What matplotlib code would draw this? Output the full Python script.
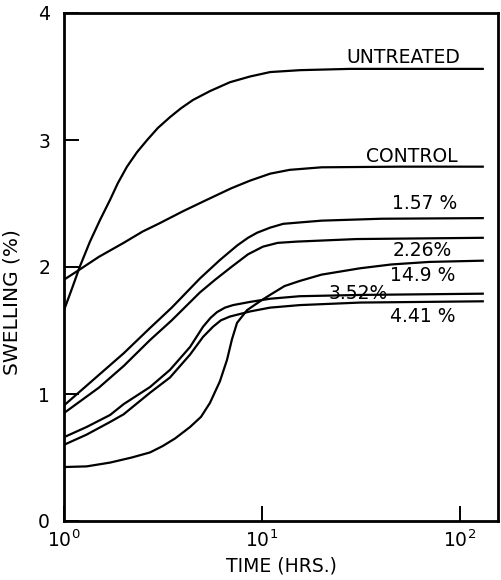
import matplotlib
matplotlib.use("Agg")
import matplotlib.pyplot as plt

# Werte (Zeit in Stunden, Quellung in %)
t_untr = [1.0, 1.1, 1.2, 1.35, 1.52, 1.71, 1.87, 2.08, 2.34, 2.63, 2.98, 3.43, 3.9, 4.48, 5.46, 6.89, 8.7, 11.0, 15.6, 27.8, 132]
s_untr = [1.66, 1.835, 2.0, 2.197, 2.37, 2.53, 2.66, 2.79, 2.905, 3.0, 3.095, 3.18, 3.25, 3.315, 3.385, 3.455, 3.50, 3.535, 3.55, 3.56, 3.56]

t_ctrl = [1.0, 1.2, 1.5, 2.0, 2.5, 3.0, 4.0, 5.28, 7.0, 8.7, 11, 13.8, 20, 50, 132]
s_ctrl = [1.90, 1.98, 2.08, 2.19, 2.28, 2.34, 2.44, 2.53, 2.62, 2.68, 2.735, 2.765, 2.785, 2.79, 2.79]

t_157 = [1.0, 1.5, 2.0, 2.72, 3.5, 4.86, 6.13, 7.5, 8.5, 9.45, 11, 12.8, 20, 40, 132]
s_157 = [0.91, 1.15, 1.32, 1.52, 1.68, 1.91, 2.055, 2.17, 2.23, 2.27, 2.31, 2.34, 2.365, 2.38, 2.385]

t_226 = [1.0, 1.5, 2.0, 2.72, 3.5, 4.86, 5.8, 7.0, 8.5, 10.1, 12, 15, 30, 132]
s_226 = [0.85, 1.05, 1.22, 1.425, 1.58, 1.80, 1.90, 2.00, 2.10, 2.16, 2.19, 2.20, 2.22, 2.23]

t_352 = [1.0, 1.3, 1.71, 2.0, 2.72, 3.43, 4.33, 5.04, 5.5, 5.93, 6.5, 7.14, 8.7, 10.97, 15.5, 31.3, 132]
s_352 = [0.66, 0.74, 0.835, 0.92, 1.055, 1.19, 1.37, 1.53, 1.60, 1.645, 1.68, 1.70, 1.725, 1.75, 1.77, 1.78, 1.79]

t_441 = [1.0, 1.3, 1.71, 2.0, 2.72, 3.43, 4.33, 5.04, 5.66, 6.2, 6.89, 8.7, 10.97, 15.5, 31.3, 132]
s_441 = [0.60, 0.68, 0.78, 0.84, 1.01, 1.13, 1.31, 1.45, 1.53, 1.58, 1.61, 1.65, 1.68, 1.70, 1.72, 1.73]

t_149 = [1.0, 1.3, 1.71, 2.2, 2.72, 3.15, 3.64, 4.33, 4.92, 5.46, 6.13, 6.66, 7.05, 7.48, 8.4, 9.77, 10.97, 13.0, 15.5, 20, 31.3, 45, 70, 132]
s_149 = [0.425, 0.43, 0.46, 0.50, 0.54, 0.59, 0.65, 0.74, 0.82, 0.93, 1.10, 1.27, 1.43, 1.56, 1.66, 1.73, 1.78, 1.85, 1.89, 1.94, 1.99, 2.02, 2.04, 2.05]

# Beschriftungen: Text, x, y
labels = ["UNTREATED", "CONTROL", "1.57 %", "2.26%", "14.9 %", "3.52%", "4.41 %"]
label_x = [51.5, 57.3, 66.6, 64.3, 65.0, 30.5, 65.0]
label_y = [3.65, 2.87, 2.50, 2.13, 1.93, 1.795, 1.61]

fig = plt.figure(figsize=(5.01, 5.80), dpi=100)
ax = fig.add_axes([64/501, 1 - 521/580, 434/501, 508/580])

for t, s in [(t_untr, s_untr), (t_ctrl, s_ctrl), (t_157, s_157), (t_226, s_226),
             (t_352, s_352), (t_441, s_441), (t_149, s_149)]:
    ax.plot(t, s, color="black", lw=1.6, solid_capstyle="butt", solid_joinstyle="round")

for txt, x, y in zip(labels, label_x, label_y):
    ax.text(x, y, txt, ha="center", va="center", fontsize=13.5)

ax.set_xscale("log")
ax.set_xlim(1, 10**(434/198))
ax.set_ylim(0, 4)
ax.set_xticks([1, 10, 100])
ax.set_xticklabels(["$10^0$", "$10^1$", "$10^2$"])
ax.minorticks_off()
ax.set_yticks([0, 1, 2, 3, 4])
ax.tick_params(direction="in", length=11, width=1.4, labelsize=13.5)
ax.tick_params(axis="y", pad=10)
ax.tick_params(axis="x", pad=6)
for sp in ax.spines.values():
    sp.set_linewidth(2)

ax.set_xlabel("TIME (HRS.)", fontsize=13.5, labelpad=4)
ax.set_ylabel("SWELLING (%)", fontsize=14.5)
ax.yaxis.set_label_coords(-0.098, 0.43)

fig.savefig("out.png", dpi=100)
